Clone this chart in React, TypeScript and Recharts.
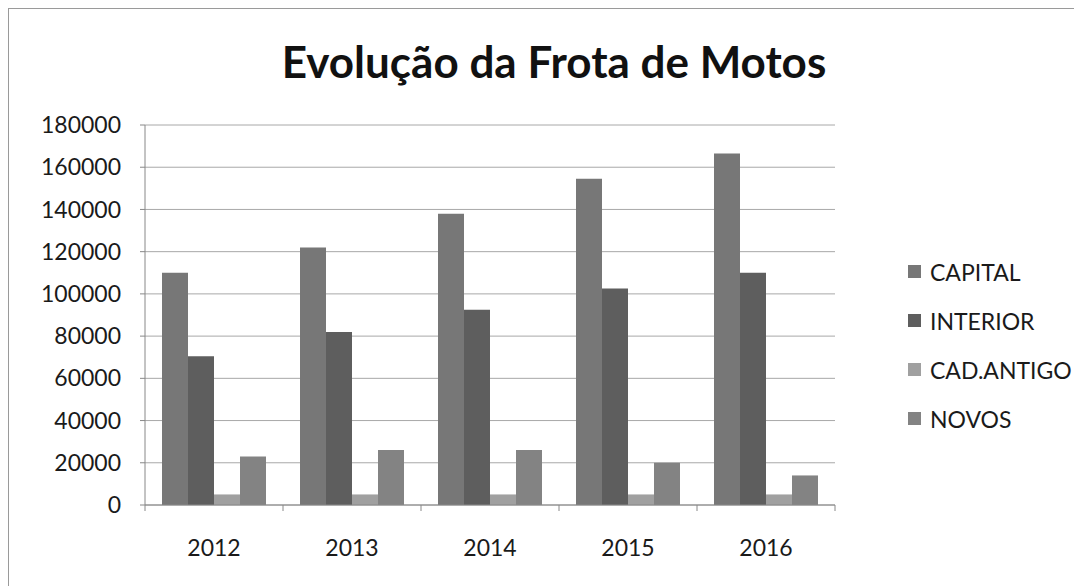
import React from 'react';
import { BarChart, Bar, XAxis, YAxis, CartesianGrid, Legend } from 'recharts';

const categories = ['2012', '2013', '2014', '2015', '2016'];
const capital = [110000, 122000, 138000, 154500, 166500];
const interior = [70500, 82000, 92500, 102500, 110000];
const cadAntigo = [5000, 5000, 5000, 5000, 5000];
const novos = [23000, 26000, 26000, 20000, 14000];
const yTicks = [0, 20000, 40000, 60000, 80000, 100000, 120000, 140000, 160000, 180000];

const seriesNames = ['CAPITAL', 'INTERIOR', 'CAD.ANTIGO', 'NOVOS'];
const seriesColors = ['#777777', '#5e5e5e', '#a0a0a0', '#838383'];

const data = categories.map((c, i) => ({
  year: c,
  CAPITAL: capital[i],
  INTERIOR: interior[i],
  'CAD.ANTIGO': cadAntigo[i],
  NOVOS: novos[i],
}));

const FONT = 'Lato, "Open Sans", sans-serif';

const XTick = (props: any) => {
  const { x, y, payload, index, visibleTicksCount } = props;
  const off = payload && typeof payload.offset === 'number' ? payload.offset : 69;
  const last = index === (visibleTicksCount ?? categories.length) - 1;
  return (
    <g>
      <line x1={x - off} y1={y} x2={x - off} y2={y + 6} stroke="#888" strokeWidth={1} />
      {last && <line x1={x + off} y1={y} x2={x + off} y2={y + 6} stroke="#888" strokeWidth={1} />}
      <text x={x} y={y + 51} textAnchor="middle" fontSize={23} fontFamily={FONT} fill="#1a1a1a">
        {payload.value}
      </text>
    </g>
  );
};

const LegendContent = (props: any) => {
  const payload = [...(props.payload || [])].sort(
    (a: any, b: any) => seriesNames.indexOf(a.value) - seriesNames.indexOf(b.value)
  );
  return (
    <div style={{ fontFamily: FONT, fontSize: 23, color: '#1a1a1a' }}>
      {payload.map((p: any) => (
        <div key={p.value} style={{ height: 49, display: 'flex', alignItems: 'center' }}>
          <span
            style={{
              display: 'inline-block',
              width: 13,
              height: 13,
              background: p.color,
              marginRight: 9,
            }}
          />
          <span>{p.value}</span>
        </div>
      ))}
    </div>
  );
};

export default function App() {
  return (
    <div
      style={{
        position: 'relative',
        width: 1068,
        height: 580,
        border: '1px solid #9a9a9a',
        background: '#fff',
      }}
    >
      <div
        style={{
          position: 'absolute',
          left: 0,
          top: 27,
          width: 1090,
          textAlign: 'center',
          fontFamily: FONT,
          fontWeight: 700,
          fontSize: 44,
          color: '#111',
          lineHeight: '50px',
        }}
      >
        Evolução da Frota de Motos
      </div>
      <BarChart
        width={1068}
        height={578}
        data={data}
        margin={{ top: 116, right: 242, left: 0, bottom: 22 }}
        barCategoryGap={17}
        barGap={0}
      >
        <CartesianGrid vertical={false} stroke="#a8a8a8" strokeWidth={1} />
        <XAxis
          dataKey="year"
          axisLine={{ stroke: '#888' }}
          tickLine={false}
          tickSize={0}
          tickMargin={0}
          height={60}
          tick={<XTick />}
          interval={0}
        />
        <YAxis
          domain={[0, 180000]}
          ticks={yTicks}
          width={136}
          axisLine={{ stroke: '#888' }}
          tickLine={{ stroke: '#888' }}
          tickSize={5}
          tickMargin={19}
          tick={{ fontSize: 23, fontFamily: FONT, fill: '#1a1a1a' }}
          interval={0}
        />
        <Legend
          layout="vertical"
          align="center"
          verticalAlign="middle"
          content={<LegendContent />}
          wrapperStyle={{ position: 'absolute', left: 899, top: 238, width: 170 }}
        />
        {seriesNames.map((n, i) => (
          <Bar key={n} dataKey={n} fill={seriesColors[i]} isAnimationActive={false} />
        ))}
      </BarChart>
    </div>
  );
}
